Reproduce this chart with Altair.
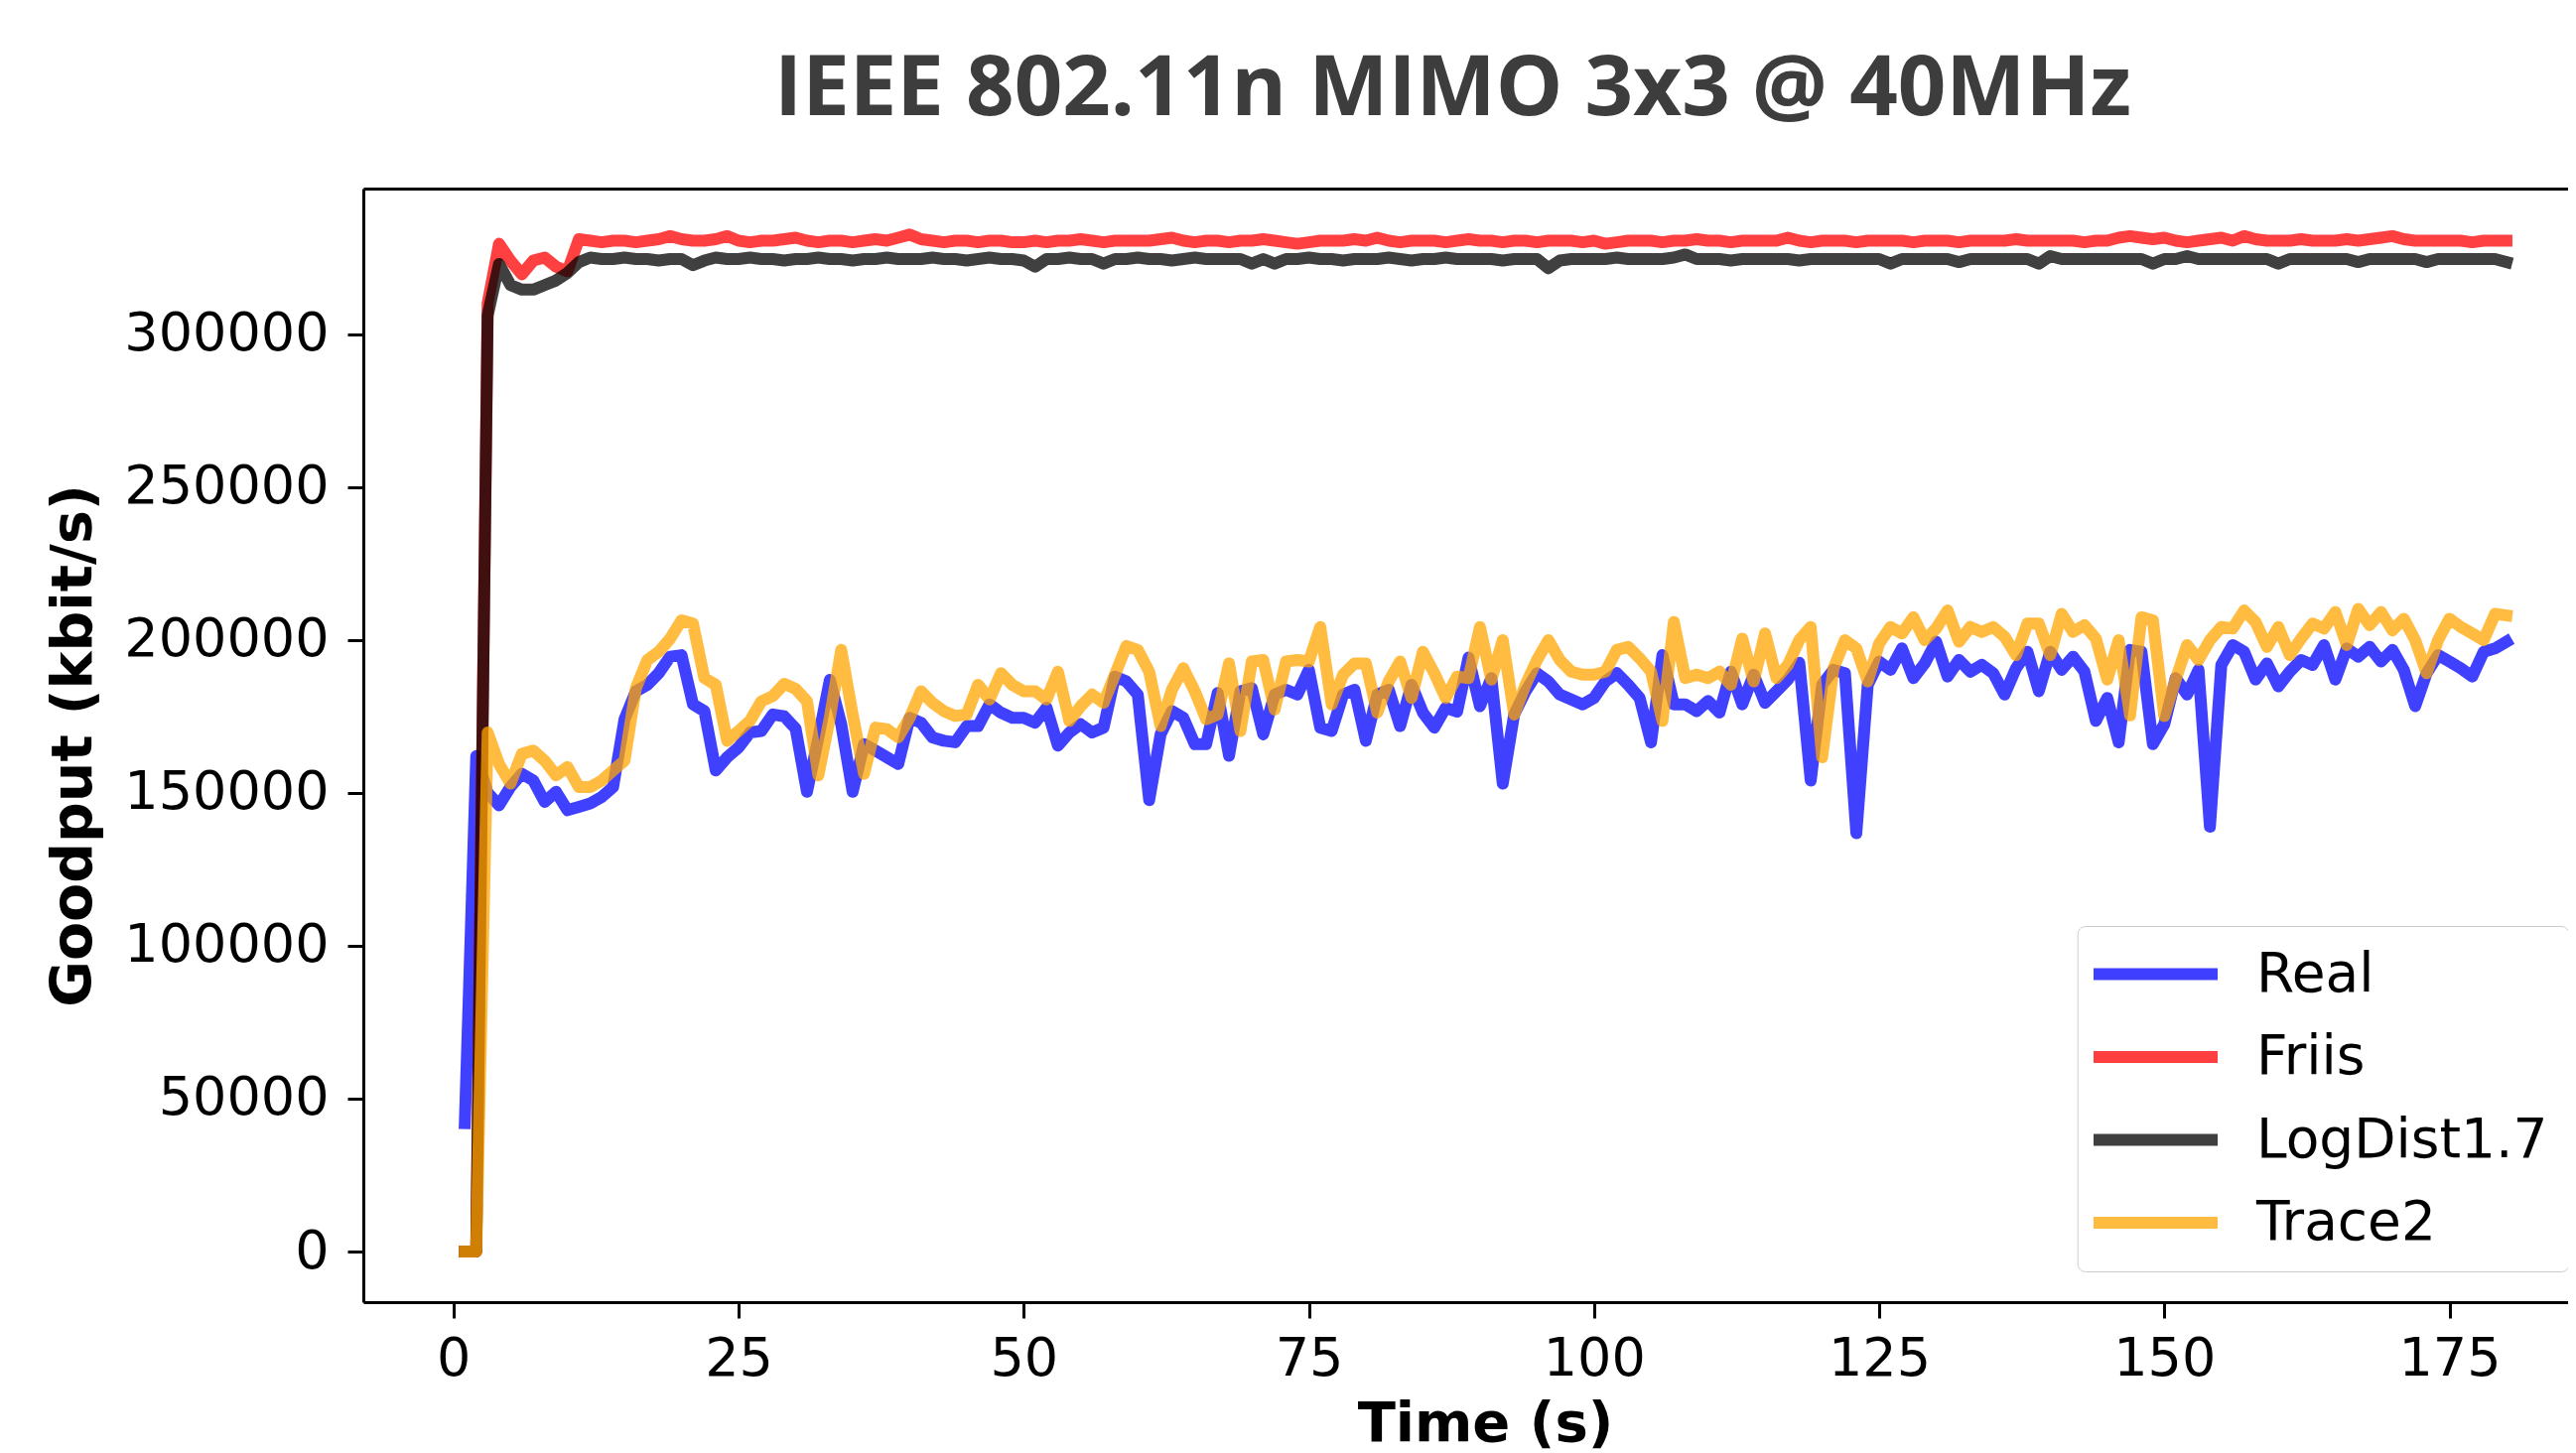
import altair as alt
import pandas as pd

# ---- data ----
time_s = list(range(1, 181))

real = [
    42000, 162000, 150000, 145900, 151900, 156200, 154000, 147000, 150300, 144300,
    145400, 146500, 148600, 151900, 174000, 183200, 185300, 189100, 194500, 195000,
    178900, 176700, 157300, 161600, 164800, 169700, 170200, 175600, 175000, 171000,
    150300, 168100, 186900, 172400, 150300, 165900, 163800, 161600, 159400, 174500,
    172900, 168100, 167000, 166500, 171800, 171800, 178900, 176200, 174500, 174500,
    172900, 177800, 165400, 169700, 172400, 169700, 171300, 188000, 186400, 182100,
    147600, 169100, 176700, 174500, 165900, 165900, 182600, 162100, 183200, 184200,
    169100, 182100, 183700, 182100, 190200, 171300, 170200, 182100, 183700, 167000,
    182100, 183700, 171800, 185300, 176200, 171300, 177800, 176500, 194200, 178300,
    187500, 153000, 175600, 183200, 189100, 186400, 182100, 180500, 178900, 181000,
    186400, 189100, 185300, 181000, 166500, 195000, 178900, 178900, 176700, 180000,
    176200, 189600, 178900, 188600, 179400, 183200, 187000, 192500, 154000, 185300,
    190200, 189100, 136800, 185300, 192900, 190200, 197200, 187500, 192300, 199400,
    188000, 193400, 189600, 191800, 189100, 182100, 190700, 196100, 183200, 196100,
    190200, 194500, 189600, 173500, 181000, 166500, 196700, 196100, 165900, 172400,
    187500, 182100, 190200, 138900, 191800, 198300, 196100, 187000, 192300, 184800,
    189600, 193400, 191800, 198300, 187000, 197200, 194500, 197700, 192900, 196700,
    190200, 178300, 189100, 195000, 192900, 190700, 188000, 196100, 197200, 199400,
]

friis = [
    0, 0, 310000, 329500, 324000, 319500, 324000, 325000, 322000, 320500,
    331000, 330500, 330000, 330500, 330500, 330000, 330500, 331000, 332000, 331000,
    330500, 330500, 331000, 332000, 330500, 330000, 330500, 330500, 331000, 331500,
    330500, 330000, 330500, 330500, 330000, 330500, 331000, 330500, 331500, 332500,
    331000, 330500, 330000, 330500, 330500, 330000, 330500, 330500, 330000, 330000,
    330500, 330000, 330500, 330500, 331000, 330500, 330000, 330500, 330500, 330500,
    330500, 331000, 331500, 330500, 330000, 330500, 330500, 330000, 330500, 330500,
    331000, 330500, 330000, 329500, 330000, 330500, 330500, 330500, 331000, 330500,
    331500, 330500, 330000, 330500, 330500, 330500, 330000, 330500, 331000, 330500,
    330500, 330000, 330500, 330500, 330000, 330500, 330500, 330500, 330000, 330500,
    329500, 330000, 330500, 330500, 330500, 330000, 330500, 330500, 331000, 330500,
    330500, 330000, 330500, 330500, 330500, 330500, 331500, 330500, 330000, 330500,
    330500, 330500, 330000, 330500, 330500, 330500, 330500, 330000, 330500, 330500,
    330500, 330000, 330500, 330500, 330500, 330500, 331000, 330500, 330500, 330500,
    330500, 330500, 330000, 330500, 330500, 331500, 332000, 331500, 331000, 331500,
    330500, 330000, 330500, 331000, 331500, 330500, 332000, 331000, 330500, 330500,
    330500, 331000, 330500, 330500, 330500, 331000, 330500, 331000, 331500, 332000,
    331000, 330500, 330500, 330500, 330500, 330500, 330000, 330500, 330500, 330500,
]

logdist = [
    0, 0, 306000, 322900, 316000, 314500, 314500, 316000, 317500, 320000,
    323500, 325000, 324500, 324500, 325000, 324500, 324500, 324000, 324500, 324500,
    322500, 324000, 325000, 324500, 324500, 325000, 324500, 324500, 324000, 324500,
    324500, 325000, 324500, 324500, 324000, 324500, 324500, 325000, 324500, 324500,
    324500, 325000, 324500, 324500, 324000, 324500, 325000, 324500, 324500, 324000,
    322000, 324500, 324500, 325000, 324500, 324500, 323000, 324500, 324500, 325000,
    324500, 324500, 324000, 324500, 325000, 324500, 324500, 324500, 324500, 323000,
    324500, 323000, 324500, 324500, 325000, 324500, 324500, 324000, 324500, 324500,
    324500, 325000, 324500, 324000, 324500, 324500, 325000, 324500, 324500, 324500,
    324500, 324000, 324500, 324500, 324500, 321500, 324000, 324500, 324500, 324500,
    324500, 325000, 324500, 324500, 324500, 324500, 325000, 326000, 324500, 324500,
    324500, 324000, 324500, 324500, 324500, 324500, 324500, 324000, 324500, 324500,
    324500, 324500, 324500, 324500, 324500, 323000, 324500, 324500, 324500, 324500,
    324500, 323500, 324500, 324500, 324500, 324500, 324500, 324500, 323000, 325500,
    324500, 324500, 324500, 324500, 324500, 324500, 324500, 324500, 323000, 324500,
    324500, 325500, 324500, 324500, 324500, 324500, 324500, 324500, 324500, 323000,
    324500, 324500, 324500, 324500, 324500, 324500, 323500, 324500, 324500, 324500,
    324500, 324500, 323500, 324500, 324500, 324500, 324500, 324500, 324500, 323500,
]

trace2 = [
    0, 0, 169700, 159400, 153000, 162700, 163800, 160500, 155700, 158400,
    151900, 151900, 154000, 157300, 160500, 184200, 193400, 196100, 200400, 206400,
    205300, 187500, 185300, 167000, 170200, 173500, 179900, 181600, 185600, 184000,
    179900, 155700, 174500, 196700, 175600, 156200, 171300, 170800, 168100, 174500,
    183200, 179400, 176700, 175100, 175600, 185300, 180500, 189100, 185300, 183200,
    183200, 180500, 189600, 173500, 178300, 182100, 179400, 188600, 198000, 196700,
    189600, 171800, 183700, 190700, 183200, 174000, 175600, 192300, 170200, 192900,
    193400, 177200, 192900, 193400, 192900, 204200, 178900, 188600, 192300, 192300,
    176200, 186400, 192900, 181000, 196100, 189100, 181000, 188000, 187500, 204200,
    187000, 199900, 175600, 185300, 193400, 199900, 193400, 189600, 188600, 188600,
    189600, 196700, 197700, 194000, 189600, 173500, 205800, 187500, 188600, 187500,
    189600, 185300, 200400, 186400, 202100, 187500, 191800, 200000, 204200, 161600,
    190700, 199900, 197200, 186400, 198800, 204200, 202100, 207400, 199900, 203700,
    209600, 199400, 204200, 202600, 204200, 201000, 195000, 205300, 205300, 195000,
    208500, 202600, 204800, 200400, 187000, 199900, 175300, 207400, 206400, 175100,
    187000, 198300, 193400, 199900, 204200, 203700, 209600, 205800, 197700, 204200,
    195000, 200400, 205300, 203700, 209100, 198300, 210100, 204800, 209100, 203100,
    206900, 199900, 189100, 199900, 206900, 204200, 202100, 199900, 208500, 208000,
]

series_names = ["Real", "Friis", "LogDist1.7", "Trace2"]
series_colors = ["#0000ff", "#ff0000", "#000000", "#ffa500"]
x_ticks = [0, 25, 50, 75, 100, 125, 150, 175]
y_ticks = [0, 50000, 100000, 150000, 200000, 250000, 300000]
title_text = "IEEE 802.11n MIMO 3x3 @ 40MHz"

# ---- long table ----
rows = []
for name, vals in zip(series_names, [real, friis, logdist, trace2]):
    for t, v in zip(time_s, vals):
        rows.append({"Time": t, "Goodput": v, "Series": name})
df = pd.DataFrame(rows)

x_scale = alt.Scale(domain=[-7.9, 185.4], nice=False, zero=False)
y_scale = alt.Scale(domain=[-16550, 347550], nice=False, zero=False)

lines = alt.Chart(df).mark_line(
    strokeWidth=12, strokeOpacity=0.75, strokeCap="square", strokeJoin="round"
).encode(
    x=alt.X(
        "Time:Q", scale=x_scale,
        axis=alt.Axis(
            values=x_ticks, title="Time (s)", grid=False, format="d",
            labelFontSize=54, labelFont="DejaVu Sans", labelColor="black",
            labelPadding=14, tickSize=16, tickWidth=3, tickColor="black",
            domainWidth=3, domainColor="black", labelLimit=1000,
            titleFontSize=56, titleFont="DejaVu Sans", titleFontWeight="bold",
            titleColor="black", titleX=1130, titleY=139,
            titleBaseline="alphabetic", titleAlign="center",
        ),
    ),
    y=alt.Y(
        "Goodput:Q", scale=y_scale,
        axis=alt.Axis(
            values=y_ticks, title="Goodput (kbit/s)", grid=False, format="d",
            labelFontSize=54, labelFont="DejaVu Sans", labelColor="black",
            labelPadding=19, tickSize=16, tickWidth=3, tickColor="black",
            domainWidth=3, domainColor="black", labelLimit=1000,
            titleFontSize=57, titleFont="DejaVu Sans", titleFontWeight="bold",
            titleColor="black", titleX=-275, titleY=561, titleAngle=270,
            titleBaseline="alphabetic", titleAlign="center", titleLimit=2000,
        ),
    ),
    color=alt.Color(
        "Series:N",
        scale=alt.Scale(domain=series_names, range=series_colors),
        sort=series_names,
        legend=alt.Legend(
            title=None, orient="none", legendX=1726.7, legendY=743,
            symbolType="M-4,0H4", symbolSize=976.5625, symbolStrokeWidth=12,
            symbolOpacity=0.75, symbolOffset=30.3,
            labelFontSize=55, labelFont="DejaVu Sans", labelLimit=1000,
            labelColor="black", labelOffset=74, rowPadding=27.5, padding=21,
            fillColor="rgba(255,255,255,0.8)", strokeColor="#cccccc",
            cornerRadius=8,
        ),
    ),
)

# invisible layer that only carries the top frame line
top_frame = alt.Chart(df).mark_point(opacity=0).encode(
    x=alt.X(
        "Time:Q", scale=x_scale,
        axis=alt.Axis(orient="top", labels=False, ticks=False, title=None,
                      grid=False, domain=True, domainWidth=3, domainColor="black"),
    ),
)

chart = alt.layer(lines, top_frame).resolve_axis(x="independent").properties(
    width=2221,
    height=1122,
    title=alt.TitleParams(
        text=title_text, font="Open Sans", fontSize=85, fontWeight="bold",
        color="#3d3d3d", anchor="middle", dx=-13, dy=85, offset=74,
        baseline="alphabetic",
    ),
    autosize=alt.AutoSizeParams(type="none"),
    padding={"left": 358, "top": 182, "right": 0, "bottom": 150},
).configure_view(stroke=None).configure(font="DejaVu Sans")

chart.save("out.html", embed_options={"renderer": "svg", "actions": False})
